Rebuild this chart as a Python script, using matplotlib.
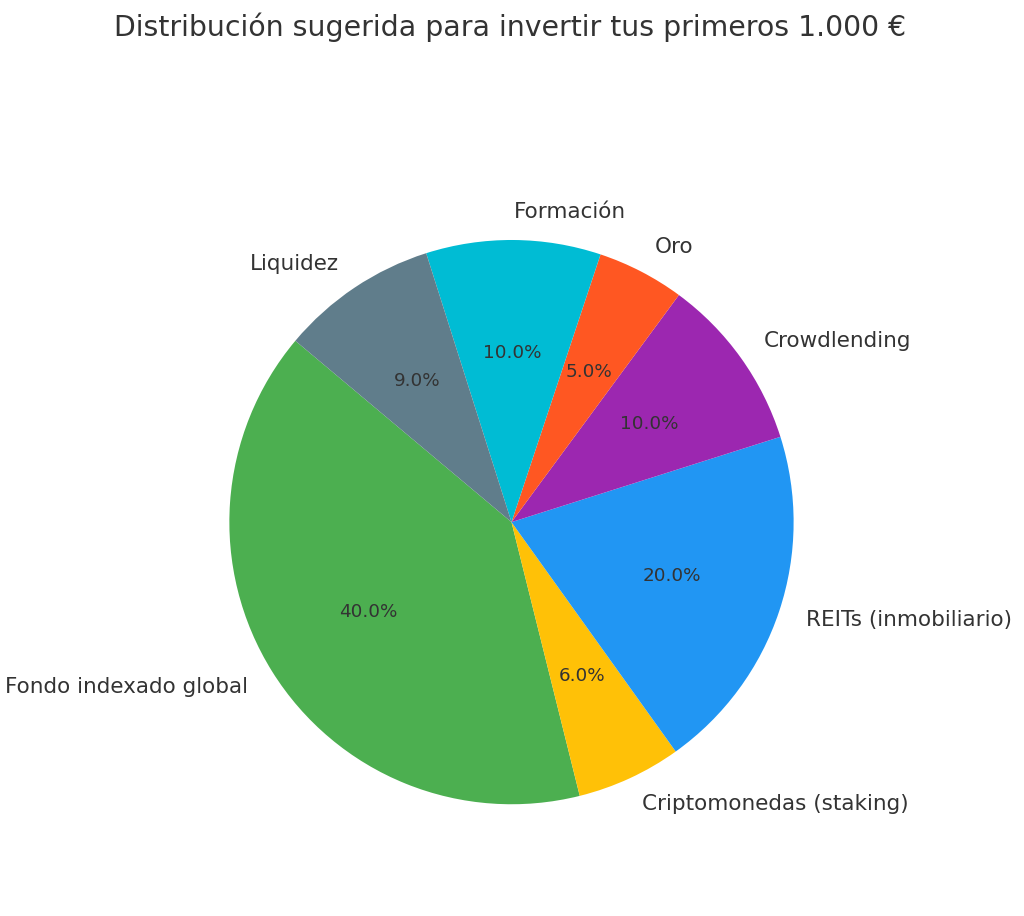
import matplotlib.pyplot as plt

labels = ['Fondo indexado global', 'Criptomonedas (staking)', 'REITs (inmobiliario)',
          'Crowdlending', 'Oro', 'Formación', 'Liquidez']
values = [40, 6, 20, 10, 5, 10, 9]
colors = ['#4CAF50', '#FFC107', '#2196F3', '#9C27B0', '#FF5722', '#00BCD4', '#607D8B']

title = 'Distribución sugerida para invertir tus primeros 1.000 €'
textcolor = '#333333'

fig = plt.figure(figsize=(10.24, 9.16), dpi=100)
ax = fig.add_axes([0.155, 0.045, 0.689, 0.770])

wedges, texts, autotexts = ax.pie(values, labels=labels, colors=colors, startangle=140,
                                  autopct='%1.1f%%', textprops={'color': textcolor})
for t in texts:
    t.set_fontsize(15.5)
for t in autotexts:
    t.set_fontsize(13.2)

ax.set_xlim(-1.25, 1.25)
ax.set_ylim(-1.25, 1.25)
ax.set_aspect('equal')

fig.text(0.498, 0.970, title, ha='center', va='center', fontsize=20.4, color=textcolor)

fig.savefig('out.png', dpi=100, facecolor='white')
